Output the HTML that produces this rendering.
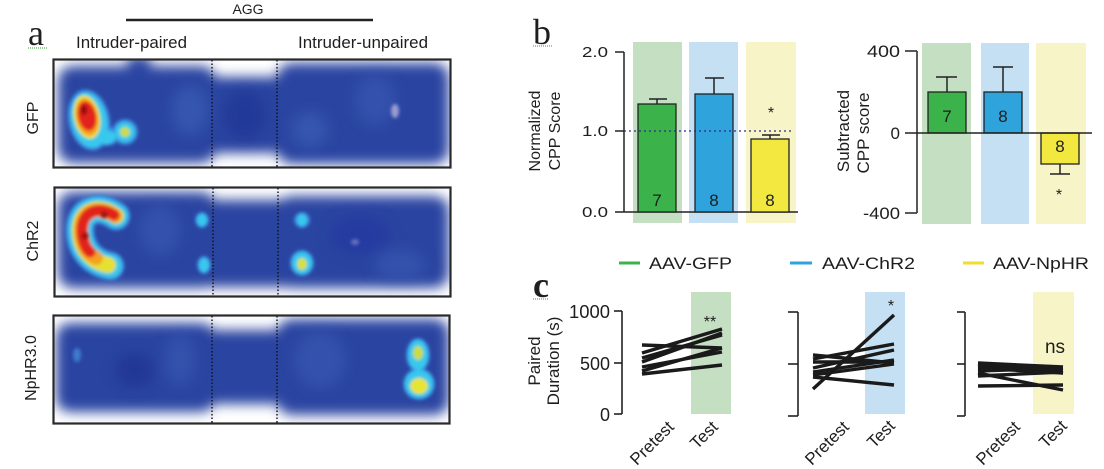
<!DOCTYPE html>
<html><head><meta charset="utf-8"><style>
html,body{margin:0;padding:0;background:#fff;}
svg{display:block;}
text{font-family:"Liberation Sans",Arial,sans-serif;fill:#1e1e1e;}
.serif{font-family:"Liberation Serif","Times New Roman",serif;}
</style></head><body>
<svg width="1104" height="469" viewBox="0 0 1104 469" xmlns="http://www.w3.org/2000/svg">
<defs>
<filter id="soft" x="-20%" y="-30%" width="140%" height="160%"><feGaussianBlur stdDeviation="6"/></filter>
<filter id="soft2" x="-50%" y="-50%" width="200%" height="200%"><feGaussianBlur stdDeviation="7"/></filter>
<filter id="hs" x="-50%" y="-50%" width="200%" height="200%"><feGaussianBlur stdDeviation="1.6"/></filter>
<clipPath id="c1"><rect x="54" y="60" width="396" height="107"/></clipPath>
<clipPath id="c2"><rect x="55" y="188" width="395" height="108"/></clipPath>
<clipPath id="c3"><rect x="54" y="316" width="395" height="107"/></clipPath>
</defs>

<!-- ===== Panel a ===== -->
<text x="28" y="45" class="serif" font-size="36">a</text>
<line x1="28" y1="48" x2="48" y2="48" stroke="#3a9a3a" stroke-width="1" stroke-dasharray="1,1"/>
<text x="248" y="14" font-size="14" text-anchor="middle">AGG</text>
<line x1="126" y1="20" x2="373" y2="20" stroke="#222" stroke-width="2.5"/>
<text x="76" y="48" font-size="17" textLength="111" lengthAdjust="spacingAndGlyphs">Intruder-paired</text>
<text x="298" y="48" font-size="17" textLength="130" lengthAdjust="spacingAndGlyphs">Intruder-unpaired</text>

<text transform="translate(38,118) rotate(-90)" font-size="16" text-anchor="middle">GFP</text>
<text transform="translate(38,241) rotate(-90)" font-size="16" text-anchor="middle">ChR2</text>
<text transform="translate(36,368) rotate(-90)" font-size="16" text-anchor="middle">NpHR3.0</text>

<!-- GFP heatmap -->
<g clip-path="url(#c1)">
<rect x="53" y="59" width="398" height="109" fill="#fff"/>
<g filter="url(#soft)" fill="#2a44a1">
<rect x="58" y="66" width="158" height="97" rx="15"/>
<rect x="128" y="56" width="22" height="26"/>
<rect x="203" y="77" width="84" height="76"/>
<rect x="277" y="63" width="172" height="101" rx="15"/>
</g>
<g filter="url(#soft2)" opacity="0.6">
<ellipse cx="190" cy="110" rx="18" ry="25" fill="#3d62ba"/>
<ellipse cx="310" cy="130" rx="18" ry="18" fill="#3d62ba"/>
<ellipse cx="245" cy="115" rx="22" ry="25" fill="#1f3293"/>
<ellipse cx="375" cy="100" rx="20" ry="25" fill="#3a5cb5"/>
</g>
<ellipse cx="395" cy="111" rx="4" ry="7" fill="#9a9cd0" filter="url(#hs)"/>
<g filter="url(#hs)">
<ellipse cx="89" cy="120" rx="21" ry="31" transform="rotate(-12 89 120)" fill="#3a86dc"/>
<circle cx="125" cy="132" r="13" fill="#3a86dc"/>
<ellipse cx="106" cy="136" rx="13" ry="10" fill="#3a86dc"/>
<ellipse cx="89" cy="120" rx="18" ry="28" transform="rotate(-12 89 120)" fill="#38c8ee"/>
<circle cx="125" cy="132" r="10" fill="#38c8ee"/>
<ellipse cx="106" cy="137" rx="10" ry="7" fill="#38c8ee"/>
<circle cx="125" cy="132" r="5" fill="#cfdc3c"/>
<ellipse cx="87" cy="117" rx="13" ry="22" transform="rotate(-12 87 117)" fill="#f0e228"/>
<ellipse cx="87" cy="117" rx="11" ry="19" transform="rotate(-12 87 117)" fill="#f4a022"/>
<ellipse cx="87" cy="116" rx="9" ry="15" transform="rotate(-12 87 116)" fill="#e2231a"/>
<ellipse cx="84" cy="110" rx="3" ry="5" fill="#8b1010"/>
</g>
</g>
<rect x="53.5" y="59.5" width="397" height="108" fill="none" stroke="#2a2a2a" stroke-width="2.2"/>
<line x1="212" y1="60" x2="212" y2="167" stroke="#111" stroke-width="1.4" stroke-dasharray="1.5,2"/>
<line x1="277" y1="60" x2="277" y2="167" stroke="#111" stroke-width="1.4" stroke-dasharray="1.5,2"/>

<!-- ChR2 heatmap -->
<g clip-path="url(#c2)">
<rect x="54" y="187" width="397" height="110" fill="#fff"/>
<g filter="url(#soft)" fill="#2a44a1">
<rect x="58" y="192" width="158" height="96" rx="15"/>
<rect x="203" y="200" width="84" height="87"/>
<rect x="277" y="196" width="172" height="92" rx="15"/>
</g>
<g filter="url(#soft2)" opacity="0.6">
<ellipse cx="160" cy="230" rx="20" ry="25" fill="#3a5cb5"/>
<ellipse cx="360" cy="235" rx="30" ry="20" fill="#2035a0"/>
<ellipse cx="400" cy="265" rx="25" ry="15" fill="#3a5cb5"/>
</g>
<ellipse cx="355" cy="242" rx="4" ry="3" fill="#6a70c0" filter="url(#hs)"/>
<g filter="url(#hs)" fill="none" stroke-linecap="round">
<path d="M 116 216 C 100 204, 79 208, 80 232 C 81 252, 95 263, 110 266" stroke="#3a86dc" stroke-width="29"/>
<path d="M 116 216 C 100 204, 79 208, 80 232 C 81 252, 95 263, 110 266" stroke="#38c8ee" stroke-width="24"/>
<path d="M 116 216 C 100 204, 79 208, 80 232 C 81 252, 95 263, 108 265" stroke="#e6e030" stroke-width="16"/>
<path d="M 115 216 C 100 205, 80 209, 81 232 C 82 246, 88 254, 96 258" stroke="#f4a022" stroke-width="14"/>
<path d="M 114 215 C 100 206, 81 210, 82 232 C 83 243, 86 249, 90 252" stroke="#e2231a" stroke-width="11"/>
</g>
<g filter="url(#hs)">
<circle cx="104" cy="215" r="3" fill="#8b1010"/>
<circle cx="85" cy="236" r="3" fill="#8b1010"/>
<ellipse cx="202" cy="220" rx="7" ry="8" fill="#3a86dc"/>
<ellipse cx="202" cy="220" rx="5" ry="6" fill="#38c8ee"/>
<ellipse cx="204" cy="265" rx="7" ry="9" fill="#3a86dc"/>
<ellipse cx="204" cy="265" rx="5" ry="7" fill="#38c8ee"/>
<ellipse cx="302" cy="220" rx="8" ry="8" fill="#3a86dc"/>
<ellipse cx="302" cy="220" rx="5" ry="6" fill="#38c8ee"/>
<ellipse cx="302" cy="263" rx="12" ry="13" fill="#3a86dc"/>
<ellipse cx="302" cy="263" rx="10" ry="11" fill="#38c8ee"/>
<ellipse cx="302" cy="264" rx="5" ry="6" fill="#d8e040"/>
</g>
</g>
<rect x="54.5" y="187.5" width="396" height="109" fill="none" stroke="#2a2a2a" stroke-width="2.2"/>
<line x1="213" y1="188" x2="213" y2="296" stroke="#111" stroke-width="1.4" stroke-dasharray="1.5,2"/>
<line x1="278" y1="188" x2="278" y2="296" stroke="#111" stroke-width="1.4" stroke-dasharray="1.5,2"/>

<!-- NpHR heatmap -->
<g clip-path="url(#c3)">
<rect x="53" y="315" width="397" height="109" fill="#fff"/>
<g filter="url(#soft)" fill="#2a44a1">
<rect x="56" y="323" width="159" height="89" rx="14"/>
<rect x="203" y="330" width="84" height="74"/>
<rect x="277" y="319" width="172" height="96" rx="15"/>
</g>
<g filter="url(#soft2)" opacity="0.6">
<ellipse cx="135" cy="370" rx="20" ry="18" fill="#1d2f90"/>
<ellipse cx="180" cy="360" rx="15" ry="25" fill="#3a5cb5"/>
<ellipse cx="320" cy="360" rx="25" ry="28" fill="#3a5cb5"/>
</g>
<ellipse cx="77" cy="355" rx="4" ry="7" fill="#3d7ad0" filter="url(#hs)"/>
<g filter="url(#hs)">
<ellipse cx="418" cy="355" rx="12" ry="17" fill="#3a86dc"/>
<ellipse cx="419" cy="384" rx="16" ry="16" fill="#3a86dc"/>
<ellipse cx="418" cy="355" rx="10" ry="15" fill="#38c8ee"/>
<ellipse cx="419" cy="384" rx="14" ry="14" fill="#38c8ee"/>
<ellipse cx="418" cy="353" rx="5" ry="7" fill="#cadc40"/>
<ellipse cx="419" cy="386" rx="9" ry="8" fill="#e8e430"/>
</g>
</g>
<rect x="53.5" y="315.5" width="396" height="108" fill="none" stroke="#2a2a2a" stroke-width="2.2"/>
<line x1="212" y1="316" x2="212" y2="423" stroke="#111" stroke-width="1.4" stroke-dasharray="1.5,2"/>
<line x1="277" y1="316" x2="277" y2="423" stroke="#111" stroke-width="1.4" stroke-dasharray="1.5,2"/>

<!-- ===== Panel b ===== -->
<text x="533" y="44" class="serif" font-size="36">b</text>
<line x1="533" y1="46" x2="553" y2="46" stroke="#3a9a3a" stroke-width="1" stroke-dasharray="1,1"/>

<!-- left chart -->
<rect x="633" y="42" width="49" height="181" fill="#c4dfc2"/>
<rect x="689" y="42" width="49" height="181" fill="#c5dff3"/>
<rect x="746" y="42" width="50" height="181" fill="#f7f5c8"/>
<text transform="translate(540,131) rotate(-90)" font-size="16" text-anchor="middle">Normalized</text>
<text transform="translate(560,131) rotate(-90)" font-size="16" text-anchor="middle">CPP Score</text>
<g font-size="15">
<text x="608" y="57" text-anchor="end" textLength="26" lengthAdjust="spacingAndGlyphs">2.0</text>
<text x="608" y="136" text-anchor="end" textLength="26" lengthAdjust="spacingAndGlyphs">1.0</text>
<text x="608" y="217" text-anchor="end" textLength="26" lengthAdjust="spacingAndGlyphs">0.0</text>
</g>
<g stroke="#222" stroke-width="1.5" fill="none">
<line x1="624" y1="52" x2="624" y2="212"/>
<line x1="615" y1="52" x2="624" y2="52"/>
<line x1="615" y1="131" x2="624" y2="131"/>
<line x1="615" y1="212" x2="798" y2="212"/>
<line x1="657" y1="104" x2="657" y2="99"/><line x1="649" y1="99" x2="667" y2="99"/>
<line x1="714" y1="94" x2="714" y2="78"/><line x1="705" y1="78" x2="724" y2="78"/>
<line x1="770" y1="139" x2="770" y2="135"/><line x1="762" y1="135" x2="780" y2="135"/>
</g>
<rect x="638" y="104" width="38" height="108" fill="#3bb34a" stroke="#222" stroke-width="1.3"/>
<rect x="695" y="94" width="38" height="118" fill="#2ea3dc" stroke="#222" stroke-width="1.3"/>
<rect x="751" y="139" width="38" height="73" fill="#f2e840" stroke="#222" stroke-width="1.3"/>
<line x1="624" y1="131" x2="793" y2="131" stroke="#2b2b8a" stroke-width="1.2" stroke-dasharray="2,3"/>
<g font-size="17" text-anchor="middle">
<text x="657" y="206">7</text><text x="714" y="206">8</text><text x="770" y="206">8</text>
</g>
<text x="771" y="118" font-size="16" text-anchor="middle" fill="#333">*</text>

<!-- right chart -->
<rect x="922" y="43" width="49" height="181" fill="#c4dfc2"/>
<rect x="981" y="43" width="48" height="181" fill="#c5dff3"/>
<rect x="1036" y="43" width="50" height="181" fill="#f7f5c8"/>
<text transform="translate(849,131) rotate(-90)" font-size="17" text-anchor="middle">Subtracted</text>
<text transform="translate(869,133) rotate(-90)" font-size="17" text-anchor="middle">CPP score</text>
<g font-size="17">
<text x="900" y="57" text-anchor="end" textLength="33" lengthAdjust="spacingAndGlyphs">400</text>
<text x="900" y="139" text-anchor="end">0</text>
<text x="900" y="219" text-anchor="end" textLength="37" lengthAdjust="spacingAndGlyphs">-400</text>
</g>
<g stroke="#222" stroke-width="1.5" fill="none">
<line x1="917" y1="51" x2="917" y2="213"/>
<line x1="905" y1="51" x2="917" y2="51"/>
<line x1="905" y1="213" x2="917" y2="213"/>
<line x1="947" y1="92" x2="947" y2="77"/><line x1="936" y1="77" x2="957" y2="77"/>
<line x1="1003" y1="92" x2="1003" y2="67"/><line x1="993" y1="67" x2="1013" y2="67"/>
<line x1="1060" y1="164" x2="1060" y2="174"/><line x1="1050" y1="174" x2="1070" y2="174"/>
</g>
<rect x="928" y="92" width="38" height="41" fill="#3bb34a" stroke="#222" stroke-width="1.3"/>
<rect x="984" y="92" width="38" height="41" fill="#2ea3dc" stroke="#222" stroke-width="1.3"/>
<rect x="1041" y="133" width="38" height="31" fill="#f2e840" stroke="#222" stroke-width="1.3"/>
<line x1="905" y1="133" x2="1092" y2="133" stroke="#222" stroke-width="1.5"/>
<g font-size="17" text-anchor="middle">
<text x="947" y="122">7</text><text x="1003" y="122">8</text><text x="1060" y="152">8</text>
</g>
<text x="1059" y="200" font-size="16" text-anchor="middle" fill="#333">*</text>

<!-- legend -->
<line x1="619" y1="263" x2="640" y2="263" stroke="#3bb34a" stroke-width="3"/>
<text x="649" y="269" font-size="17" textLength="83" lengthAdjust="spacingAndGlyphs">AAV-GFP</text>
<line x1="790" y1="263" x2="812" y2="263" stroke="#2ea3dc" stroke-width="3"/>
<text x="822" y="269" font-size="17" textLength="93" lengthAdjust="spacingAndGlyphs">AAV-ChR2</text>
<line x1="963" y1="263" x2="984" y2="263" stroke="#f2dc30" stroke-width="3"/>
<text x="993" y="269" font-size="17" textLength="96" lengthAdjust="spacingAndGlyphs">AAV-NpHR</text>

<!-- ===== Panel c ===== -->
<text x="533" y="297" class="serif" font-size="36" font-weight="bold">c</text>
<line x1="533" y1="299" x2="549" y2="299" stroke="#3a9a3a" stroke-width="1" stroke-dasharray="1,1"/>
<text transform="translate(540,361) rotate(-90)" font-size="17" text-anchor="middle">Paired</text>
<text transform="translate(559,361) rotate(-90)" font-size="17" text-anchor="middle">Duration (s)</text>
<g font-size="18">
<text x="610" y="318" text-anchor="end" textLength="41" lengthAdjust="spacingAndGlyphs">1000</text>
<text x="610" y="370" text-anchor="end">500</text>
<text x="610" y="421" text-anchor="end">0</text>
</g>
<rect x="691" y="292" width="40" height="122" fill="#c4dfc2"/>
<rect x="865" y="292" width="40" height="122" fill="#c5dff3"/>
<rect x="1033" y="292" width="41" height="122" fill="#f7f5c8"/>
<g stroke="#222" stroke-width="1.6" fill="none">
<line x1="622" y1="311" x2="622" y2="414"/>
<line x1="614" y1="311" x2="622" y2="311"/>
<line x1="614" y1="363" x2="622" y2="363"/>
<line x1="614" y1="414" x2="622" y2="414"/>
<line x1="798" y1="312" x2="798" y2="416"/>
<line x1="788" y1="312" x2="798" y2="312"/>
<line x1="788" y1="364" x2="798" y2="364"/>
<line x1="788" y1="416" x2="798" y2="416"/>
<line x1="965" y1="312" x2="965" y2="416"/>
<line x1="957" y1="312" x2="965" y2="312"/>
<line x1="957" y1="364" x2="965" y2="364"/>
<line x1="957" y1="416" x2="965" y2="416"/>
</g>
<g stroke="#1a1a1a" stroke-width="3.4" stroke-linecap="butt">
<!-- GFP -->
<line x1="642" y1="345" x2="722" y2="348"/>
<line x1="642" y1="353" x2="722" y2="329"/>
<line x1="642" y1="358" x2="722" y2="335"/>
<line x1="642" y1="362" x2="722" y2="333"/>
<line x1="642" y1="367" x2="722" y2="352"/>
<line x1="642" y1="371" x2="722" y2="348"/>
<line x1="642" y1="374" x2="722" y2="365"/>
<!-- ChR2 -->
<line x1="813" y1="389" x2="894" y2="315"/>
<line x1="813" y1="355" x2="894" y2="363"/>
<line x1="813" y1="359" x2="894" y2="344"/>
<line x1="813" y1="368" x2="894" y2="350"/>
<line x1="813" y1="372" x2="894" y2="360"/>
<line x1="813" y1="375" x2="894" y2="364"/>
<line x1="813" y1="377" x2="894" y2="385"/>
<line x1="813" y1="362" x2="894" y2="362"/>
<!-- NpHR -->
<line x1="978" y1="363" x2="1063" y2="367"/>
<line x1="978" y1="366" x2="1063" y2="370"/>
<line x1="978" y1="368" x2="1063" y2="373"/>
<line x1="978" y1="373" x2="1063" y2="390"/>
<line x1="978" y1="376" x2="1063" y2="372"/>
<line x1="978" y1="386" x2="1063" y2="385"/>
<line x1="978" y1="371" x2="1063" y2="368"/>
<line x1="978" y1="364" x2="1063" y2="373"/>
</g>
<text x="710" y="327" font-size="16" text-anchor="middle" fill="#333">**</text>
<text x="891" y="311" font-size="16" text-anchor="middle" fill="#333">*</text>
<text x="1055" y="353" font-size="19" text-anchor="middle">ns</text>
<g font-size="17" text-anchor="end">
<text transform="translate(675,428) rotate(-45)">Pretest</text>
<text transform="translate(719,428) rotate(-45)">Test</text>
<text transform="translate(850,428) rotate(-45)">Pretest</text>
<text transform="translate(896,427) rotate(-45)">Test</text>
<text transform="translate(1021,428) rotate(-45)">Pretest</text>
<text transform="translate(1068,427) rotate(-45)">Test</text>
</g>
</svg>
</body></html>
